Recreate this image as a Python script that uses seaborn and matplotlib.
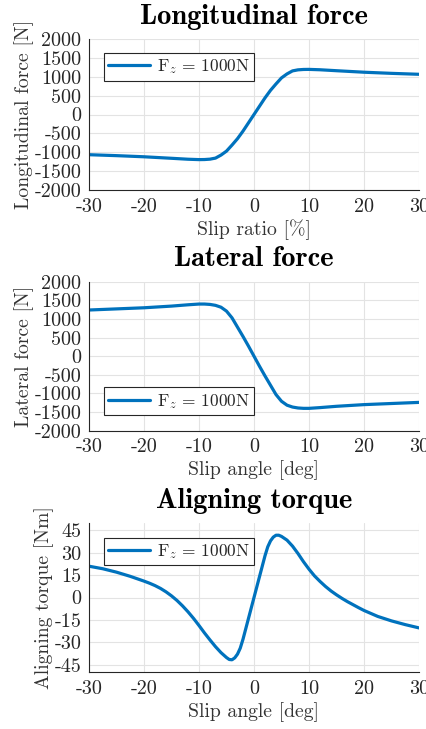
import numpy as np
import pandas as pd
import matplotlib
matplotlib.use("Agg")
import matplotlib.pyplot as plt
import seaborn as sns

# ---- data ----
slip_ratio = [-30, -25, -20, -15, -12, -10, -9, -8, -7, -6, -5, -4, -3, -2, -1, 0,
              1, 2, 3, 4, 5, 6, 7, 8, 9, 10, 12, 15, 20, 25, 30]
fx = [-1065, -1090, -1120, -1160, -1185, -1195, -1193, -1183, -1155, -1075, -970, -810, -640, -440, -220, 0,
      220, 440, 640, 810, 970, 1075, 1155, 1183, 1193, 1195, 1185, 1160, 1120, 1090, 1065]

slip_angle = [-30, -25, -20, -15, -12, -10, -9, -8, -7, -6, -5, -4, -3, -2, -1, 0,
              1, 2, 3, 4, 5, 6, 7, 8, 9, 10, 12, 15, 20, 25, 30]
fy = [1240, 1270, 1300, 1345, 1380, 1400, 1400, 1390, 1365, 1315, 1210, 1030, 780, 530, 270, 0,
      -270, -530, -780, -1030, -1210, -1315, -1365, -1390, -1400, -1400, -1380, -1345, -1300, -1270, -1240]

torque_angle = [-30, -27.5, -25, -22.5, -20, -19, -18, -17, -16, -15, -14, -13, -12, -11, -10, -9,
                -8, -7, -6, -5, -4.5, -4, -3.5, -3, -2.5, -2, -1.5, -1, -0.5, 0,
                0.5, 1, 1.5, 2, 2.5, 3, 3.5, 4, 4.5, 5, 6, 7, 8, 9, 10, 11, 12, 13, 14,
                15, 16, 17, 18, 19, 20, 22.5, 25, 27.5, 30]
mz = [21, 19.3, 17, 14.2, 11, 9.6, 8.0, 6.1, 3.8, 1.1, -2.0, -5.6, -9.6, -14.0, -18.8, -23.8,
      -28.5, -33, -37, -40.3, -41.6, -41.8, -40.5, -38, -34, -28, -21, -14, -7, 0,
      7, 14, 21, 28, 34, 38, 40.5, 41.8, 41.8, 41, 38.5, 34.5, 29.5, 24, 19, 14.5, 10.8, 7.4, 4.4,
      1.8, -0.6, -2.8, -4.8, -6.8, -8.7, -12.7, -15.7, -18.2, -20.4]

legend_label = r"F$_z$ = 1000N"
titles = ["Longitudinal force", "Lateral force", "Aligning torque"]
xlabels = ["Slip ratio [%]", "Slip angle [deg]", "Slip angle [deg]"]
ylabels = ["Longitudinal force [N]", "Lateral force [N]", "Aligning torque [Nm]"]
xticks = [-30, -20, -10, 0, 10, 20, 30]
force_ticks = [-2000, -1500, -1000, -500, 0, 500, 1000, 1500, 2000]
torque_ticks = [-45, -30, -15, 0, 15, 30, 45]

# ---- style ----
sns.set_theme(style="white")
plt.rcParams["font.family"] = ["cmr10", "DejaVu Serif"]
plt.rcParams["mathtext.fontset"] = "cm"
plt.rcParams["axes.unicode_minus"] = False
plt.rcParams["axes.formatter.use_mathtext"] = False

blue = "#0072BD"
dark = "#262626"

fig = plt.figure(figsize=(4.27, 7.29), dpi=100)
W, H = 427, 729
boxes = [(89, 39, 419, 190), (89, 281.7, 419, 430.7), (89, 523, 419, 672)]
axes = []
for (l, t, r, b) in boxes:
    axes.append(fig.add_axes([l / W, 1 - b / H, (r - l) / W, (b - t) / H]))

datasets = [
    (slip_ratio, fx, (-2000, 2000), force_ticks, ("upper left", (0.045, 0.907))),
    (slip_angle, fy, (-2000, 2000), force_ticks, ("lower left", (0.045, 0.105))),
    (torque_angle, mz, (-50, 50), torque_ticks, ("upper left", (0.045, 0.901))),
]

for i, (ax, (xs, ys, ylim, yt, (loc, anchor))) in enumerate(zip(axes, datasets)):
    df = pd.DataFrame({"x": xs, "y": ys})
    sns.lineplot(data=df, x="x", y="y", ax=ax, color=blue, linewidth=2.3,
                 label=legend_label, estimator=None)
    ax.set_xlim(-30, 30)
    ax.set_ylim(*ylim)
    ax.set_xticks(xticks)
    ax.set_xticklabels([str(v) for v in xticks])
    ax.set_yticks(yt)
    ax.set_yticklabels([str(v) for v in yt])
    ax.grid(True, color="#e3e3e3", linewidth=0.8)
    ax.set_axisbelow(True)
    for s in ["top", "right"]:
        ax.spines[s].set_visible(False)
    for s in ["left", "bottom"]:
        ax.spines[s].set_color(dark)
        ax.spines[s].set_linewidth(0.8)
    ax.tick_params(axis="both", direction="in", length=3, width=0.6, color=dark,
                   labelsize=14.5, labelcolor=dark)
    ax.tick_params(axis="x", pad=5.5)
    ax.tick_params(axis="y", pad=5.5)
    ax.set_xlabel(xlabels[i], fontsize=14.2, color="#333333", labelpad=3)
    ax.set_ylabel(ylabels[i], fontsize=14.2, color="#333333", labelpad=0.5)
    ax.set_title(titles[i], fontsize=20.5, fontfamily="cmb10", color="black", pad=11)
    leg = ax.legend(loc=loc, bbox_to_anchor=anchor, borderaxespad=0, frameon=True,
                    fancybox=False, framealpha=1, edgecolor=dark, fontsize=12.5,
                    handlelength=2.4, borderpad=0.25, handletextpad=0.4)
    leg.get_frame().set_linewidth(0.8)

fig.savefig("out.png", dpi=100)
